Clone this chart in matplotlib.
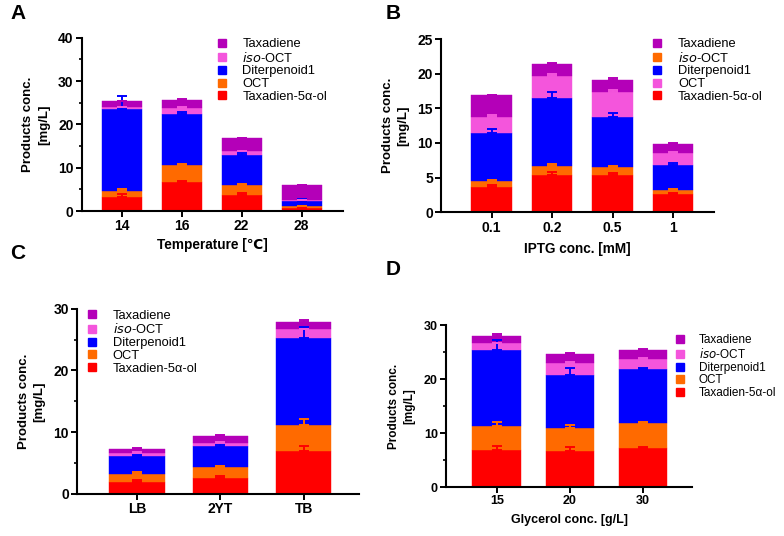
import matplotlib

matplotlib.use("Agg")
import matplotlib.pyplot as plt  # noqa: E402
import numpy as np  # noqa: E402
from matplotlib.lines import Line2D  # noqa: E402
from matplotlib.ticker import MultipleLocator  # noqa: E402

plt.rcParams["font.family"] = ["Liberation Sans", "DejaVu Sans"]

RED = "#ff0000"
ORANGE = "#ff6a00"
BLUE = "#0000ff"
PINK = "#f455dc"
PURPLE = "#b400b8"

# stack order bottom -> top
series_names = ["Taxadien-5α-ol", "OCT", "Diterpenoid1", "iso-OCT", "Taxadiene"]
series_colors = [RED, ORANGE, BLUE, PINK, PURPLE]
# panel B: legend labels the 2nd and 4th layers the other way round
series_names_b = ["Taxadien-5α-ol", "iso-OCT", "Diterpenoid1", "OCT", "Taxadiene"]
series_colors_b = [RED, ORANGE, BLUE, PINK, PURPLE]

# Panel A: temperature
temp_labels = ["14", "16", "22", "28"]
temp_taxadienol = [3.2, 6.8, 3.7, 0.75]
temp_oct = [1.5, 3.8, 2.3, 0.3]
temp_diterpenoid = [18.8, 11.9, 7.0, 1.35]
temp_iso_oct = [0.6, 1.2, 0.8, 0.05]
temp_taxadiene = [1.3, 1.9, 3.0, 3.45]
temp_err_taxadienol = [0.8, 0.2, 0.35, 0.25]
temp_err_oct = [0.3, 0.3, 0.35, 0.2]
temp_err_diterpenoid = [3.1, 0.4, 0.45, 0.3]
temp_err_iso_oct = [0.0, 0.2, 0.1, 0.0]
temp_err_taxadiene = [0.1, 0.3, 0.1, 0.2]

# Panel B: IPTG
iptg_labels = ["0.1", "0.2", "0.5", "1"]
iptg_taxadienol = [3.7, 5.4, 5.4, 2.6]
iptg_iso_oct = [0.8, 1.3, 1.2, 0.6]
iptg_diterpenoid = [7.0, 9.75, 7.2, 3.6]
iptg_oct = [2.3, 3.25, 3.6, 1.8]
iptg_taxadiene = [3.1, 1.7, 1.7, 1.2]
iptg_err_taxadienol = [0.25, 0.35, 0.3, 0.2]
iptg_err_iso_oct = [0.15, 0.3, 0.1, 0.15]
iptg_err_diterpenoid = [0.5, 0.9, 0.5, 0.25]
iptg_err_oct = [0.2, 0.25, 0.3, 0.15]
iptg_err_taxadiene = [0.05, 0.2, 0.3, 0.15]

# Panel C: medium
medium_labels = ["LB", "2YT", "TB"]
medium_taxadienol = [2.0, 2.6, 7.0]
medium_oct = [1.3, 1.77, 4.2]
medium_diterpenoid = [2.9, 3.4, 14.0]
medium_iso_oct = [0.5, 0.53, 1.5]
medium_taxadiene = [0.65, 1.03, 1.1]
medium_err_taxadienol = [0.27, 0.26, 0.7]
medium_err_oct = [0.2, 0.23, 0.9]
medium_err_diterpenoid = [0.17, 0.33, 1.9]
medium_err_iso_oct = [0.05, 0.05, 0.05]
medium_err_taxadiene = [0.15, 0.17, 0.4]

# Panel D: glycerol
glyc_labels = ["15", "20", "30"]
glyc_taxadienol = [6.93, 6.74, 7.3]
glyc_oct = [4.37, 4.26, 4.5]
glyc_diterpenoid = [14.05, 9.8, 10.0]
glyc_iso_oct = [1.35, 2.2, 1.9]
glyc_taxadiene = [1.3, 1.7, 1.8]
glyc_err_taxadienol = [0.74, 0.66, 0.2]
glyc_err_oct = [0.8, 0.45, 0.2]
glyc_err_diterpenoid = [1.85, 1.2, 0.3]
glyc_err_iso_oct = [0.05, 0.2, 0.2]
glyc_err_taxadiene = [0.45, 0.2, 0.15]


def stacked_panel(ax, labels, layers, errs, colors, ylim, major, minor,
                  xlim, fs=9.5):
    x = np.arange(len(labels))
    bottom = np.zeros(len(labels))
    for vals, err, color in zip(layers, errs, colors):
        vals = np.asarray(vals, dtype=float)
        ax.bar(x, vals, width=0.667, bottom=bottom, color=color,
               edgecolor=color, linewidth=0.3, zorder=2)
        top = bottom + vals
        # only the upper half of the SD is drawn
        ax.errorbar(x, top, yerr=[np.zeros(len(x)), err], fmt="none",
                    ecolor=color, elinewidth=1.4, capsize=3.5, capthick=1.4,
                    zorder=4)
        bottom = top
    ax.set_xlim(*xlim)
    ax.set_ylim(*ylim)
    ax.set_xticks(x)
    ax.set_xticklabels(labels, fontsize=fs + 0.5, fontweight="bold")
    ax.yaxis.set_major_locator(MultipleLocator(major))
    if minor:
        ax.yaxis.set_minor_locator(MultipleLocator(minor))
    for lab in ax.get_yticklabels():
        lab.set_fontweight("bold")
        lab.set_fontsize(fs + 0.5)
    ax.spines["top"].set_visible(False)
    ax.spines["right"].set_visible(False)
    for side in ("left", "bottom"):
        ax.spines[side].set_linewidth(1.5)
    ax.tick_params(axis="both", which="major", length=4, width=1.4, pad=2)
    ax.tick_params(axis="y", which="minor", length=2.5, width=1.2)
    ax.set_ylabel("Products conc.\n[mg/L]", fontsize=fs, fontweight="bold",
                  labelpad=6, linespacing=1.4)


def add_legend(ax, fig, names, colors, anchor, fs=9.3):
    handles = [Line2D([], [], marker="s", linestyle="none", color=c,
                      markersize=5.5) for c in colors]
    labels = []
    for n in names:
        if n == "iso-OCT":
            labels.append("$\\it{iso}$-OCT")
        else:
            labels.append(n)
    ax.legend(handles, labels, loc="upper left", bbox_to_anchor=anchor,
              bbox_transform=fig.transFigure, frameon=False, fontsize=fs,
              handlelength=0.8, handletextpad=1.2, labelspacing=0.05,
              borderpad=0, borderaxespad=0)


fig = plt.figure(figsize=(7.84, 5.36), dpi=100)

ax_a = fig.add_axes([0.1046, 0.6063, 0.3329, 0.3233])
ax_b = fig.add_axes([0.5629, 0.6039, 0.3474, 0.3233])
ax_c = fig.add_axes([0.0986, 0.0784, 0.3597, 0.3457])
ax_d = fig.add_axes([0.5693, 0.0914, 0.3134, 0.3017])

stacked_panel(ax_a, temp_labels,
              [temp_taxadienol, temp_oct, temp_diterpenoid, temp_iso_oct, temp_taxadiene],
              [temp_err_taxadienol, temp_err_oct, temp_err_diterpenoid,
               temp_err_iso_oct, temp_err_taxadiene],
              series_colors, (0, 40), 10, 5, (-0.66, 3.69))
ax_a.set_xlabel("Temperature [℃]", fontsize=9.8, fontweight="bold", labelpad=3)
add_legend(ax_a, fig, series_names[::-1], series_colors[::-1], (0.276, 0.929))

stacked_panel(ax_b, iptg_labels,
              [iptg_taxadienol, iptg_iso_oct, iptg_diterpenoid, iptg_oct, iptg_taxadiene],
              [iptg_err_taxadienol, iptg_err_iso_oct, iptg_err_diterpenoid,
               iptg_err_oct, iptg_err_taxadiene],
              series_colors_b, (0, 25), 5, None, (-0.83, 3.67))
ax_b.set_xlabel("IPTG conc. [mM]", fontsize=9.8, fontweight="bold", labelpad=5)
legend_b_order = [4, 1, 2, 3, 0]
add_legend(ax_b, fig, [series_names_b[i] for i in legend_b_order],
           [series_colors_b[i] for i in legend_b_order], (0.832, 0.929))

stacked_panel(ax_c, medium_labels,
              [medium_taxadienol, medium_oct, medium_diterpenoid, medium_iso_oct,
               medium_taxadiene],
              [medium_err_taxadienol, medium_err_oct, medium_err_diterpenoid,
               medium_err_iso_oct, medium_err_taxadiene],
              series_colors, (0, 30), 10, 5, (-0.72, 2.67))
add_legend(ax_c, fig, series_names[::-1], series_colors[::-1], (0.111, 0.422))

stacked_panel(ax_d, glyc_labels,
              [glyc_taxadienol, glyc_oct, glyc_diterpenoid, glyc_iso_oct, glyc_taxadiene],
              [glyc_err_taxadienol, glyc_err_oct, glyc_err_diterpenoid,
               glyc_err_iso_oct, glyc_err_taxadiene],
              series_colors, (0, 30), 10, 5, (-0.69, 2.67), fs=8.5)
ax_d.set_xlabel("Glycerol conc. [g/L]", fontsize=9, fontweight="bold", labelpad=5)
add_legend(ax_d, fig, series_names[::-1], series_colors[::-1], (0.861, 0.376),
           fs=8.5)

for letter, (px, py) in zip("ABCD", [(10, 4), (386, 4), (10, 244), (386, 260)]):
    fig.text(px / 784, 1 - py / 536, letter, fontsize=15, fontweight="bold",
             va="top", ha="left")

fig.savefig("out.png", dpi=100)
